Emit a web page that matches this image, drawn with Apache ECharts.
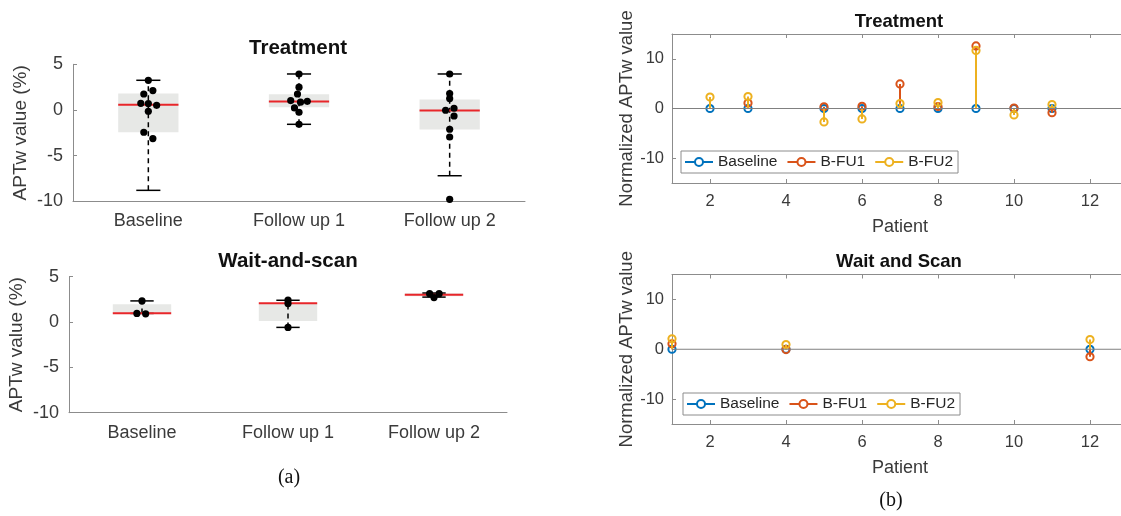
<!DOCTYPE html>
<html>
<head>
<meta charset="utf-8">
<script src="https://cdn.jsdelivr.net/npm/echarts@6/dist/echarts.min.js"></script>
<style>
html, body { margin: 0; padding: 0; background: #fff; }
#chart { width: 1121px; height: 516px; }
</style>
</head>
<body>
<div id="chart"></div>
<script>
// ---- (a) box plots ----
var groups = ['Baseline', 'Follow up 1', 'Follow up 2'];
var aptTicks = [-10, -5, 0, 5];

// box stats: [group, whisker low, q1, median, q3, whisker high]
var treatBoxes = [
  [0, -8.8, -2.45, 0.58, 1.8, 3.25],
  [1, -1.57, 0.3, 0.92, 1.72, 3.94],
  [2, -7.2, -2.15, -0.07, 1.14, 3.94]
];
var waitBoxes = [
  [0, 0.95, 0.95, 0.98, 1.97, 2.33],
  [1, -0.59, 0.11, 2.06, 2.08, 2.4],
  [2, 2.75, 2.84, 3.02, 3.17, 3.2]
];

// individual points per group, jitter is a fraction of the category band
var treatPoints = [
  [3.25, 2.12, 1.75, 0.73, 0.70, 0.51, -0.14, -2.44, -3.13],
  [3.94, 2.49, 1.75, 1.03, 0.95, 0.85, 0.22, -0.25, -1.57],
  [3.94, 1.8, 1.25, 0.19, -0.03, -0.66, -2.11, -2.96, -9.78]
];
var treatJitter = [
  [0, 0.03, -0.03, -0.05, 0, 0.055, 0, -0.03, 0.03],
  [0, 0, -0.01, -0.055, 0.055, 0.01, -0.03, 0, 0],
  [0, 0, 0, 0.029, -0.027, 0.029, 0, 0, 0]
];
var waitPoints = [
  [2.33, 0.95, 0.9],
  [2.41, 2.04, -0.59],
  [3.13, 3.13, 2.7]
];
var waitJitter = [
  [0, -0.035, 0.025],
  [0, 0, 0],
  [-0.03, 0.035, 0]
];

// ---- (b) stem plots ----
var patientMin = 1, patientMax = 13;
var patientTicks = [2, 4, 6, 8, 10, 12];
var normTicks = [-10, 0, 10];
var seriesNames = ['Baseline', 'B-FU1', 'B-FU2'];

var treatPatients = [2, 3, 5, 6, 7, 8, 9, 10, 11];
var treatBaseline = [0, 0, 0, 0, 0, 0, 0, 0, 0];
var treatFU1 = [null, 1.1, 0.35, 0.45, 4.95, 0.4, 12.6, 0.1, -0.85];
var treatFU2 = [2.3, 2.4, -2.7, -2.1, 1.0, 1.2, 11.7, -1.3, 0.8];

var waitPatients = [1, 4, 12];
var waitBaseline = [0, 0, 0];
var waitFU1 = [1.1, -0.07, -1.5];
var waitFU2 = [2.1, 0.94, 1.95];

var colors = ['#0072BD', '#D95319', '#EDB120'];
var font = 'Liberation Sans';
var axisGray = '#8c8c8c';
var tickText = '#3a3a3a';

function boxItem(params, api) {
  var i = api.value(0);
  var band = api.size([1, 0])[0];
  var lo = api.coord([i, api.value(1)]);
  var q1 = api.coord([i, api.value(2)]);
  var med = api.coord([i, api.value(3)]);
  var q3 = api.coord([i, api.value(4)]);
  var hi = api.coord([i, api.value(5)]);
  var cx = lo[0], hw = band * 0.2, cw = band * 0.08;
  return {
    type: 'group',
    children: [
      { type: 'rect', shape: { x: cx - hw, y: q3[1], width: 2 * hw, height: q1[1] - q3[1] }, style: { fill: '#e7e8e6' } },
      { type: 'line', shape: { x1: cx, y1: lo[1], x2: cx, y2: hi[1] }, style: { stroke: '#000', lineWidth: 1.5, lineDash: [5, 4] } },
      { type: 'line', shape: { x1: cx - cw, y1: hi[1], x2: cx + cw, y2: hi[1] }, style: { stroke: '#000', lineWidth: 1.5 } },
      { type: 'line', shape: { x1: cx - cw, y1: lo[1], x2: cx + cw, y2: lo[1] }, style: { stroke: '#000', lineWidth: 1.5 } },
      { type: 'line', shape: { x1: cx - hw, y1: med[1], x2: cx + hw, y2: med[1] }, style: { stroke: '#e8262a', lineWidth: 2 } }
    ]
  };
}

function dotItem(params, api) {
  var p = api.coord([api.value(0), api.value(1)]);
  var band = api.size([1, 0])[0];
  return { type: 'circle', shape: { cx: p[0] + api.value(2) * band, cy: p[1], r: 3.6 }, style: { fill: '#000' } };
}

function stemItem(color) {
  return function (params, api) {
    var p0 = api.coord([api.value(0), 0]);
    var p1 = api.coord([api.value(0), api.value(1)]);
    return {
      type: 'group',
      children: [
        { type: 'line', shape: { x1: p0[0], y1: p0[1], x2: p1[0], y2: p1[1] }, style: { stroke: color, lineWidth: 2 } },
        { type: 'circle', shape: { cx: p1[0], cy: p1[1], r: 3.6 }, style: { fill: 'none', stroke: color, lineWidth: 2 } }
      ]
    };
  };
}

function dotData(points, jitter) {
  var out = [];
  points.forEach(function (vals, g) {
    vals.forEach(function (v, k) { out.push([g, v, jitter[g][k]]); });
  });
  return out;
}

function stemData(xs, ys) {
  var out = [];
  xs.forEach(function (x, k) { if (ys[k] !== null) out.push([x, ys[k]]); });
  return out;
}

function catAxis(grid) {
  return {
    type: 'category', gridIndex: grid, data: groups,
    axisLine: { onZero: false, lineStyle: { color: axisGray } },
    axisTick: { inside: true, alignWithLabel: true, length: 4, lineStyle: { color: axisGray } },
    axisLabel: { fontSize: 18, color: tickText, fontFamily: font, margin: 11 },
    splitLine: { show: false }
  };
}
function aptAxis(grid) {
  return {
    type: 'value', gridIndex: grid, min: -10, max: 5, interval: 5,
    name: 'APTw value (%)', nameLocation: 'middle', nameGap: 43,
    nameTextStyle: { fontSize: 19, color: tickText, fontFamily: font },
    axisLine: { show: true, onZero: false, lineStyle: { color: axisGray } },
    axisTick: { show: true, inside: true, length: 4, lineStyle: { color: axisGray } },
    axisLabel: { fontSize: 18, color: tickText, fontFamily: font, margin: 10 },
    splitLine: { show: false }
  };
}
function patientAxis(grid, top) {
  return {
    type: 'value', gridIndex: grid, min: patientMin, max: patientMax,
    position: top ? 'top' : 'bottom',
    name: top ? '' : 'Patient', nameLocation: 'middle', nameGap: 35,
    nameTextStyle: { fontSize: 18, color: tickText, fontFamily: font },
    axisLine: { show: true, onZero: false, lineStyle: { color: axisGray } },
    axisTick: { show: true, inside: true, length: 4, customValues: patientTicks, lineStyle: { color: axisGray } },
    axisLabel: { show: !top, fontSize: 16.5, color: tickText, fontFamily: font, margin: 10, customValues: patientTicks },
    splitLine: { show: false }
  };
}
function normAxis(grid) {
  return {
    type: 'value', gridIndex: grid, min: -15, max: 15,
    name: 'Normalized APTw value', nameLocation: 'middle', nameGap: 35,
    nameTextStyle: { fontSize: 18.5, color: tickText, fontFamily: font },
    axisLine: { show: true, onZero: false, lineStyle: { color: axisGray } },
    axisTick: { show: true, inside: true, length: 4, customValues: normTicks, lineStyle: { color: axisGray } },
    axisLabel: { fontSize: 16.5, color: tickText, fontFamily: font, margin: 8, customValues: normTicks },
    splitLine: { show: false }
  };
}

function legendBox(left, top) {
  return {
    left: left, top: top, orient: 'horizontal', data: seriesNames,
    itemWidth: 28, itemHeight: 10, itemGap: 9,
    padding: [3, 5, 3, 3],
    backgroundColor: '#fff', borderColor: axisGray, borderWidth: 1,
    textStyle: { fontSize: 15.5, color: '#262626', fontFamily: font },
    selectedMode: false
  };
}

var series = [];
// legend carriers (line icon with hollow circle)
seriesNames.forEach(function (n, k) {
  series.push({
    type: 'line', name: n, xAxisIndex: 2, yAxisIndex: 2, data: [],
    color: colors[k], symbol: 'emptyCircle', symbolSize: 8,
    lineStyle: { width: 2 }, itemStyle: { borderWidth: 2 }
  });
});

// (a) panels
series.push({ type: 'custom', xAxisIndex: 0, yAxisIndex: 0, renderItem: boxItem, encode: { x: 0, y: [1, 2, 3, 4, 5] }, data: treatBoxes, silent: true });
series.push({ type: 'custom', xAxisIndex: 0, yAxisIndex: 0, renderItem: dotItem, encode: { x: 0, y: 1 }, data: dotData(treatPoints, treatJitter), silent: true });
series.push({ type: 'custom', xAxisIndex: 1, yAxisIndex: 1, renderItem: boxItem, encode: { x: 0, y: [1, 2, 3, 4, 5] }, data: waitBoxes, silent: true });
series.push({ type: 'custom', xAxisIndex: 1, yAxisIndex: 1, renderItem: dotItem, encode: { x: 0, y: 1 }, data: dotData(waitPoints, waitJitter), silent: true });

// (b) panels: zero line then stems
[[2, 2, treatPatients, [treatBaseline, treatFU1, treatFU2]],
 [4, 3, waitPatients, [waitBaseline, waitFU1, waitFU2]]].forEach(function (p) {
  series.push({
    type: 'line', xAxisIndex: p[0], yAxisIndex: p[1], silent: true, symbol: 'none',
    lineStyle: { color: '#808080', width: 1 },
    data: [[patientMin, 0], [patientMax, 0]]
  });
  p[3].forEach(function (vals, k) {
    series.push({
      type: 'custom', name: seriesNames[k], xAxisIndex: p[0], yAxisIndex: p[1],
      renderItem: stemItem(colors[k]), encode: { x: 0, y: 1 },
      data: stemData(p[2], vals), silent: true
    });
  });
});

var chart = echarts.init(document.getElementById('chart'), null, { renderer: 'canvas' });
chart.setOption({
  backgroundColor: '#fff',
  animation: false,
  title: [
    { text: 'Treatment', left: 298, top: 38, textAlign: 'center', padding: 0, textStyle: { fontSize: 20.5, fontWeight: 'bold', color: '#111', fontFamily: font } },
    { text: 'Wait-and-scan', left: 288, top: 251, textAlign: 'center', padding: 0, textStyle: { fontSize: 20.5, fontWeight: 'bold', color: '#111', fontFamily: font } },
    { text: 'Treatment', left: 899, top: 12, textAlign: 'center', padding: 0, textStyle: { fontSize: 18.5, fontWeight: 'bold', color: '#111', fontFamily: font } },
    { text: 'Wait and Scan', left: 899, top: 252, textAlign: 'center', padding: 0, textStyle: { fontSize: 18.5, fontWeight: 'bold', color: '#111', fontFamily: font } }
  ],
  legend: [legendBox(681, 151), legendBox(683, 393)],
  grid: [
    { left: 73, top: 64.3, width: 452, height: 137, containLabel: false, outerBoundsMode: 'none' },
    { left: 69, top: 276.7, width: 438, height: 136, containLabel: false, outerBoundsMode: 'none' },
    { left: 672, top: 34, width: 456, height: 149, containLabel: false, outerBoundsMode: 'none' },
    { left: 672, top: 274.5, width: 456, height: 149.5, containLabel: false, outerBoundsMode: 'none' }
  ],
  xAxis: [catAxis(0), catAxis(1), patientAxis(2, false), patientAxis(2, true), patientAxis(3, false), patientAxis(3, true)],
  yAxis: [aptAxis(0), aptAxis(1), normAxis(2), normAxis(3)],
  graphic: [
    { type: 'text', x: 289, y: 478, style: { text: '(a)', font: '20px "Liberation Serif"', fill: '#111', align: 'center', verticalAlign: 'middle' } },
    { type: 'text', x: 891, y: 501, style: { text: '(b)', font: '20px "Liberation Serif"', fill: '#111', align: 'center', verticalAlign: 'middle' } }
  ],
  series: series
});
</script>
</body>
</html>
